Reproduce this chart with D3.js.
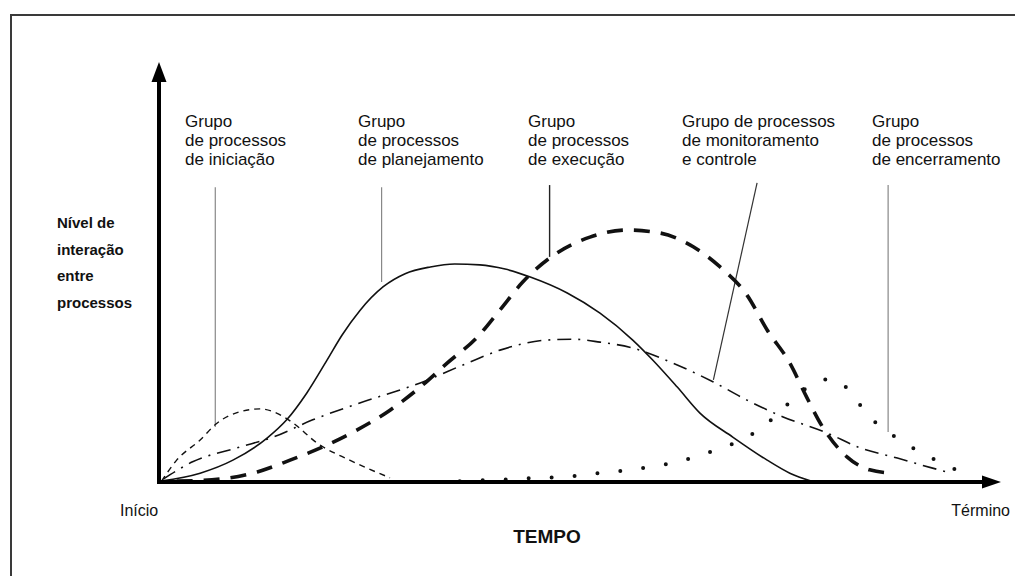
<!DOCTYPE html>
<html><head><meta charset="utf-8">
<script src="https://cdn.jsdelivr.net/npm/d3@7"></script>
<style>body{margin:0;background:#fff}svg{display:block}</style>
</head><body><svg id="c" width="1015" height="576"></svg>
<script>
// ---- data (x: tempo 0–100, y: nível de interação 0–100) ----
const iniciacao = [[0.3,0.2],[2.1,5.2],[4.9,10.0],[6.9,14.0],[9.6,16.7],[12.0,17.4],[14.0,16.4],[16.0,14.0],[18.8,9.3],[22.7,5.2],[27.5,1.0]];
const planejamento = [[0.2,0.2],[4.9,2.1],[8.8,5.2],[12.9,10.5],[15.2,14.8],[17.6,21.2],[20.0,29.0],[21.8,35.0],[23.9,40.8],[26.7,46.5],[29.3,49.6],[32.3,51.2],[35.2,51.9],[38.2,51.7],[41.2,50.7],[44.2,48.8],[48.6,45.0],[52.5,40.2],[56.4,33.8],[58.8,29.0],[61.7,22.6],[64.4,16.4],[68.3,10.7],[72.4,5.2],[75.1,2.1],[77.7,0.2]];
const execucao = [[2.1,0.2],[7.3,0.7],[11.7,2.4],[15.6,5.2],[20.0,8.8],[23.6,12.4],[27.5,17.1],[31.1,22.6],[34.3,28.3],[37.9,34.5],[40.6,41.0],[43.3,47.6],[46.5,53.3],[51.3,58.3],[55.7,60.0],[59.6,59.3],[63.6,56.0],[66.8,51.2],[70.0,44.5],[72.4,36.2],[75.1,28.3],[77.1,20.2],[79.0,13.1],[81.9,6.0],[84.6,2.9],[87.3,2.1]];
const monitoramento = [[0.5,0.7],[4.0,4.8],[9.6,8.3],[13.6,10.7],[18.3,14.8],[23.9,18.8],[31.1,23.6],[36.7,28.3],[40.6,31.4],[46.2,33.8],[49.3,34.0],[52.5,33.3],[56.4,31.9],[61.2,28.3],[66.0,23.8],[70.0,19.5],[74.3,15.5],[79.5,11.7],[83.5,8.1],[87.9,5.7],[92.1,3.3],[93.8,2.4]];
const encerramento = [[35.8,0.2],[39.4,0.5],[42.4,0.7],[45.1,1.0],[48.0,1.2],[50.7,1.7],[53.5,2.4],[56.3,2.9],[59.0,3.8],[61.8,4.8],[64.4,6.4],[67.0,8.1],[69.5,10.2],[71.9,13.1],[73.9,16.7],[76.0,20.7],[78.3,23.8],[79.9,24.5],[81.1,23.8],[82.9,19.8],[84.6,15.5],[86.8,11.9],[89.0,9.0],[91.5,6.2],[93.9,3.8],[96.5,1.7]];

// leader lines [[x1,y1],[x2,y2]] for each group, same order as labels
const leaders = [
  [[6.7,70.2],[6.7,13.1]],
  [[26.5,70.2],[26.5,47.6]],
  [[46.5,70.7],[46.5,53.6]],
  [[71.2,71.2],[66.0,24.3]],
  [[86.8,70.7],[86.8,11.9]]
];
const groupLabels = [
  ["Grupo","de processos","de iniciação"],
  ["Grupo","de processos","de planejamento"],
  ["Grupo","de processos","de execução"],
  ["Grupo de processos","de monitoramento","e controle"],
  ["Grupo","de processos","de encerramento"]
];
const yAxisLabel = ["Nível de","interação","entre","processos"];
const xStartLabel = "Início";
const xEndLabel = "Término";
const xAxisTitle = "TEMPO";

// ---- drawing ----
const svg = d3.select("#c");
const x = d3.scaleLinear().domain([0,100]).range([159,999]);
const y = d3.scaleLinear().domain([0,100]).range([482,62]);
const font = "'Liberation Sans', Arial, sans-serif";

// frame
svg.append("rect").attr("x",11).attr("y",15).attr("width",1030).attr("height",600)
  .attr("fill","none").attr("stroke","#3a3a3a").attr("stroke-width",2);

// leader lines
const leaderColors = ["#888","#888","#222","#333","#888"];
const leaderWidths = [1.2,1.2,1.4,1.2,1.2];
leaders.forEach((l,i)=>{
  svg.append("line").attr("x1",x(l[0][0])).attr("y1",y(l[0][1]))
    .attr("x2",x(l[1][0])).attr("y2",y(l[1][1]))
    .attr("stroke",leaderColors[i]).attr("stroke-width",leaderWidths[i]);
});

// curves
const line = d3.line().x(d=>x(d[0])).y(d=>y(d[1])).curve(d3.curveMonotoneX);
const series = [
  {d:iniciacao, w:1.4, dash:"6,5", cap:"butt"},
  {d:planejamento, w:1.6, dash:null, cap:"butt"},
  {d:monitoramento, w:1.6, dash:"14,7,2,7", cap:"butt"},
  {d:execucao, w:3.6, dash:"16,11", cap:"butt"},
  {d:encerramento, w:4, dash:"0,23", cap:"round"}
];
series.forEach(s=>{
  const p = svg.append("path").attr("d",line(s.d)).attr("fill","none")
    .attr("stroke","#111").attr("stroke-width",s.w).attr("stroke-linecap",s.cap);
  if(s.dash) p.attr("stroke-dasharray",s.dash);
});

// axes with arrows
svg.append("line").attr("x1",x(0)).attr("y1",y(0)+2).attr("x2",x(0)).attr("y2",y(100)+18)
  .attr("stroke","#000").attr("stroke-width",4);
svg.append("path").attr("d",`M${x(0)},${y(100)} L${x(0)-7.5},${y(100)+20} L${x(0)+7.5},${y(100)+20} Z`).attr("fill","#000");
svg.append("line").attr("x1",x(0)-2).attr("y1",y(0)).attr("x2",x(100)-14).attr("y2",y(0))
  .attr("stroke","#000").attr("stroke-width",4);
svg.append("path").attr("d",`M${x(100)+2},${y(0)} L${x(100)-17},${y(0)-6.5} L${x(100)-17},${y(0)+6.5} Z`).attr("fill","#000");

// group labels
const labelX = [185,358,528,682,872];
groupLabels.forEach((lines,i)=>{
  const t = svg.append("text").attr("font-family",font).attr("font-size",17).attr("fill","#111");
  lines.forEach((s,j)=>{
    t.append("tspan").attr("x",labelX[i]).attr("y",127+j*19).text(s);
  });
});

// y axis label
const yl = svg.append("text").attr("font-family",font).attr("font-size",15).attr("font-weight","bold").attr("fill","#111");
yAxisLabel.forEach((s,j)=>yl.append("tspan").attr("x",57).attr("y",228+j*26.5).text(s));

// x labels
svg.append("text").attr("x",120).attr("y",516).attr("font-family",font).attr("font-size",16).attr("fill","#111").text(xStartLabel);
svg.append("text").attr("x",1010).attr("y",516).attr("text-anchor","end").attr("font-family",font).attr("font-size",16).attr("fill","#111").text(xEndLabel);
svg.append("text").attr("x",547).attr("y",543).attr("text-anchor","middle").attr("font-family",font).attr("font-size",19).attr("font-weight","bold").attr("fill","#111").text(xAxisTitle);
</script></body></html>
